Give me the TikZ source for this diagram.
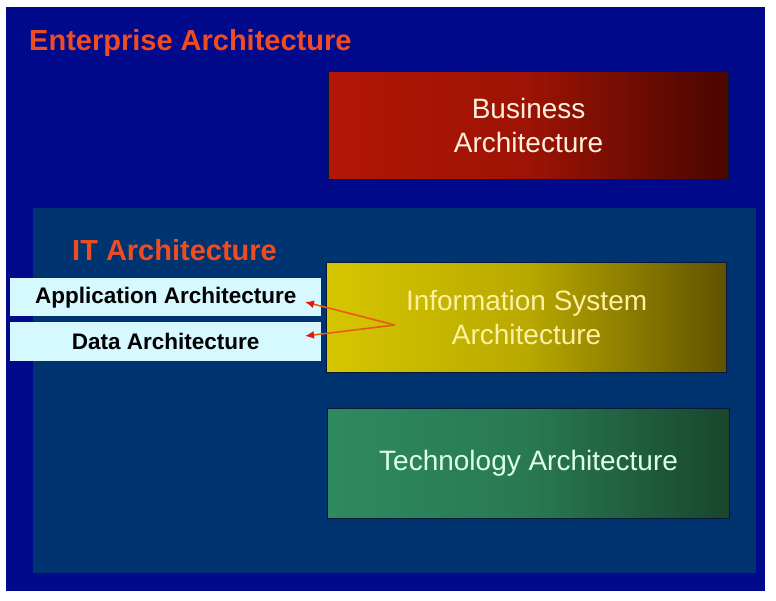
\documentclass[tikz,border=0pt]{standalone}
\usepackage{fontspec}
\setmainfont{Liberation Sans}
\usetikzlibrary{arrows.meta}
\definecolor{outerblue}{RGB}{2,10,140}
\definecolor{innerblue}{RGB}{0,52,112}
\definecolor{titleorange}{RGB}{240,76,34}
\definecolor{bizL}{RGB}{178,22,6}
\definecolor{bizR}{RGB}{72,6,0}
\definecolor{isL}{RGB}{214,198,0}
\definecolor{isR}{RGB}{96,82,0}
\definecolor{techL}{RGB}{46,138,96}
\definecolor{techR}{RGB}{24,70,44}
\definecolor{cyanbox}{RGB}{214,248,255}
\definecolor{arrowline}{RGB}{232,90,24}
\definecolor{arrowtip}{RGB}{230,20,16}
\definecolor{edgedark}{RGB}{8,24,52}
\tikzset{
  archbox/.style={anchor=north west, rectangle, inner sep=0pt, align=center,
    draw=edgedark, line width=1.2pt,
    font=\fontsize{28}{34}\selectfont},
  titletext/.style={anchor=base west, inner sep=0pt, text=titleorange,
    font=\fontsize{29}{34}\selectfont\bfseries},
  subbox/.style={anchor=north west, rectangle, inner sep=0pt, fill=cyanbox,
    minimum width=311pt, text=black, font=\fontsize{22.5}{26}\selectfont\bfseries},
  relarrow/.style={draw=arrowline, line width=1.6pt,
    -{Latex[length=9pt,width=8pt,color=arrowtip]}}
}
\begin{document}
\begin{tikzpicture}[x=1pt,y=-1pt]
\useasboundingbox (0,0) rectangle (776,600);
\fill[white] (0,0) rectangle (776,600);
% outer enterprise frame
\node[anchor=north west, inner sep=0pt, fill=outerblue, minimum width=759pt, minimum height=584pt] (ea) at (6,7) {};
\node[titletext] (eatitle) at (29,50) {Enterprise Architecture};
% business
\node[archbox, minimum width=400pt, minimum height=108pt,
  left color=bizL, right color=bizR, middle color=bizL!80!bizR, text={rgb,255:red,255;green,240;blue,222}] (biz) at (328,71) {Business\\Architecture};
% IT frame
\node[anchor=north west, inner sep=0pt, fill=innerblue, minimum width=723pt, minimum height=365pt] (it) at (33,208) {};
\node[titletext] (ittitle) at (72,260) {IT Architecture};
% information system
\node[archbox, minimum width=400pt, minimum height=110pt,
  left color=isL, right color=isR, middle color=isL!75!isR, text={rgb,255:red,255;green,240;blue,160}] (is) at (326,262) {Information System\\Architecture};
% technology
\node[archbox, minimum width=402pt, minimum height=110pt,
  left color=techL, right color=techR, middle color=techL!75!techR, text={rgb,255:red,220;green,255;blue,232}] (tech) at (327,408) {Technology Architecture};
% application & data
\node[subbox, minimum height=38pt] (app) at (10,278) {Application Architecture};
\node[subbox, minimum height=39pt] (data) at (10,322) {Data Architecture};
% arrows
\coordinate (src) at (395,325);
\coordinate (apptip) at (305,302);
\coordinate (datatip) at (305,336);
\draw[relarrow] (src) -- (apptip);
\draw[relarrow] (src) -- (datatip);
\end{tikzpicture}
\end{document}
